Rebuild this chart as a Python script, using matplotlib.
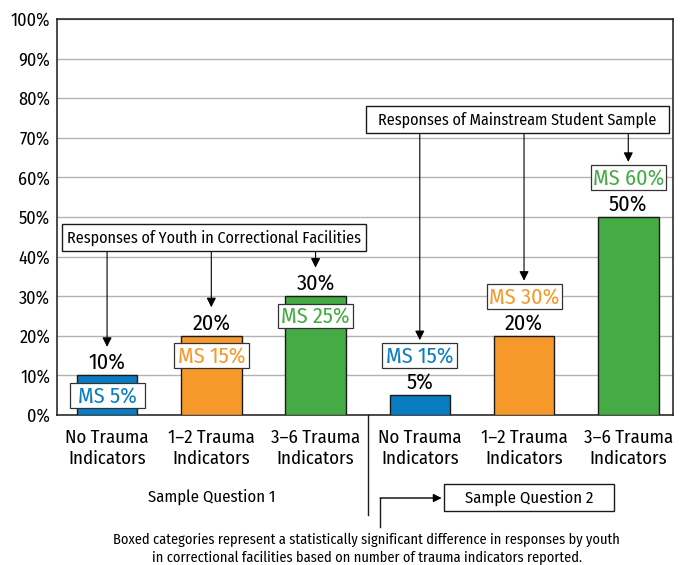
import matplotlib
matplotlib.use("Agg")
import matplotlib.pyplot as plt
from matplotlib import font_manager
from matplotlib.patches import Rectangle

# ---- data ----
categories = ["No Trauma\nIndicators", "1–2 Trauma\nIndicators", "3–6 Trauma\nIndicators",
              "No Trauma\nIndicators", "1–2 Trauma\nIndicators", "3–6 Trauma\nIndicators"]
youth_values = [10, 20, 30, 5, 20, 50]
ms_values = [5, 15, 25, 15, 30, 60]
bar_colors = ["#0a7cc1", "#f7982b", "#45ab45", "#0a7cc1", "#f7982b", "#45ab45"]
yticks = [0, 10, 20, 30, 40, 50, 60, 70, 80, 90, 100]
group_titles = ["Sample Question 1", "Sample Question 2"]
box_titles = ["Responses of Youth in Correctional Facilities",
              "Responses of Mainstream Student Sample"]
footnote = ("Boxed categories represent a statistically significant difference in responses by youth\n"
            "in correctional facilities based on number of trauma indicators reported.")

names = {f.name for f in font_manager.fontManager.ttflist}
fam = [f for f in ["Fira Sans Condensed", "PT Sans Narrow", "Roboto Condensed", "DejaVu Sans"] if f in names] or ["DejaVu Sans"]
plt.rcParams["font.family"] = fam

fig = plt.figure(figsize=(6.83, 5.65), dpi=100)
ax = fig.add_axes([0.0835, 0.2655, 0.902, 0.701])

x = list(range(len(categories)))
ax.bar(x, youth_values, width=0.58, color=bar_colors, edgecolor="#1a1a1a", linewidth=1, zorder=3)

ax.set_xlim(-0.48, 5.43)
ax.set_ylim(0, 100)
ax.set_yticks(yticks)
ax.set_yticklabels([f"{v}%" for v in yticks], fontsize=13)
ax.set_xticks(x)
ax.set_xticklabels(categories, fontsize=13.5, linespacing=1.22)
ax.tick_params(axis="both", length=0)
ax.tick_params(axis="y", pad=5)
ax.tick_params(axis="x", pad=10)
ax.grid(axis="y", color="#b3b3b3", linewidth=1, zorder=0)
ax.set_axisbelow(True)
for s in ax.spines.values():
    s.set_color("#1a1a1a")
    s.set_linewidth(1.1)

# value labels and MS boxes
ms_w, ms_h = 0.72, 6.3
for i, (v, m, c) in enumerate(zip(youth_values, ms_values, bar_colors)):
    ax.text(i, v + 3.2, f"{v}%", ha="center", va="center", fontsize=16, zorder=5)
    ax.add_patch(Rectangle((i - ms_w / 2, m - ms_h / 2), ms_w, ms_h, fc="white",
                           ec="#333333", lw=0.9, zorder=6))
    ax.text(i, m - 0.2, f"MS {m}%", ha="center", va="center", fontsize=16, color=c, zorder=7)

# group annotation boxes and arrows
box_specs = [(-0.43, 2.48, 41.4, 48.2, [0, 1, 2]), (2.48, 5.39, 71.2, 78.0, [3, 4, 5])]
for title, (x0, x1, y0, y1, idx) in zip(box_titles, box_specs):
    ax.add_patch(Rectangle((x0, y0), x1 - x0, y1 - y0, fc="white", ec="#1a1a1a", lw=1, zorder=7))
    ax.text((x0 + x1) / 2, (y0 + y1) / 2 - 0.2, title, ha="center", va="center",
            fontsize=11.6, zorder=8)
    for i in idx:
        tip = max(youth_values[i] + 7.2, ms_values[i] + 3.9)
        ax.annotate("", xy=(i, tip), xytext=(i, y0),
                    arrowprops=dict(arrowstyle="-|>", color="black", lw=0.8,
                                    mutation_scale=14, shrinkA=0, shrinkB=0),
                    zorder=4)

# divider below the axis
trans = ax.get_xaxis_transform()
ax.plot([2.5, 2.5], [0, -0.2525], color="#1a1a1a", lw=1, transform=trans, clip_on=False)

# sample question labels
ax.text(1.0, -0.207, group_titles[0], ha="center", va="center", fontsize=12, transform=trans)
ax.add_patch(Rectangle((3.23, -0.242), 4.86 - 3.23, 0.068, transform=trans, fc="white",
                       ec="#1a1a1a", lw=1, clip_on=False))
ax.text(4.045, -0.208, group_titles[1], ha="center", va="center", fontsize=12, transform=trans)
ax.plot([2.62, 2.62], [-0.283, -0.2096], color="#1a1a1a", lw=1, transform=trans, clip_on=False)
ax.annotate("", xy=(3.21, -0.2096), xytext=(2.62, -0.2096), xycoords=trans, textcoords=trans,
            arrowprops=dict(arrowstyle="-|>", color="black", lw=1, mutation_scale=12,
                            shrinkA=0, shrinkB=0), annotation_clip=False)

fig.text(0.537, 0.029, footnote, ha="center", va="center", fontsize=10.3, linespacing=1.38)

fig.savefig("out.png", dpi=100)
